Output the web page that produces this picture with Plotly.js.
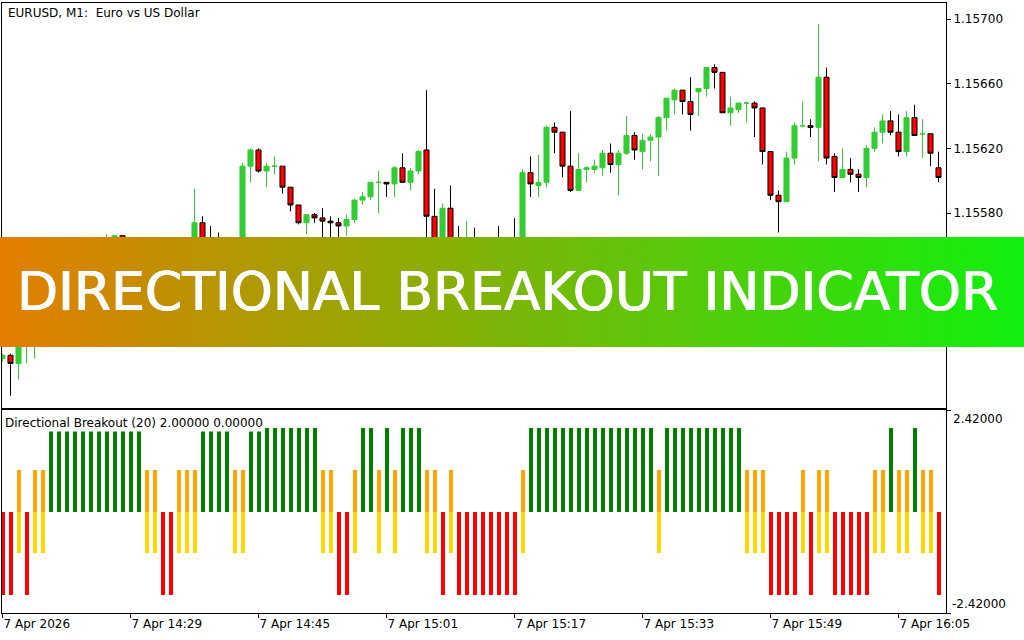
<!DOCTYPE html>
<html><head><meta charset="utf-8">
<script src="https://cdn.plot.ly/plotly-3.0.1.min.js"></script>
<style>html,body{margin:0;padding:0;background:#fff;}#chart{width:1024px;height:640px;}</style>
</head><body><div id="chart"></div>
<script>
// ---- data (EURUSD M1, 7 Apr 2026, from 14:13) ----
const startMinute = 14 * 60 + 13;
const open = [1.15490,1.15492,1.15487,1.15502,1.15510,1.15518,1.15514,1.15528,1.15532,1.15538,
1.15534,1.15543,1.15547,1.15545,1.15558,1.15566,1.15555,1.15558,1.15552,1.15547,
1.15541,1.15535,1.15539,1.15547,1.15555,1.15574,1.15560,1.15552,1.15548,1.15552,
1.15556,1.15609,1.15619,1.15606,1.15609,1.15609,1.15596,1.15585,1.15574,1.15579,
1.15577,1.15575,1.15574,1.15572,1.15576,1.15588,1.15590,1.15599,1.15599,1.15598,
1.15608,1.15599,1.15606,1.15619,1.15578,1.15555,1.15583,1.15548,1.15540,1.15546,
1.15538,1.15532,1.15528,1.15525,1.15522,1.15518,1.15605,1.15597,1.15599,1.15633,
1.15630,1.15609,1.15594,1.15607,1.15607,1.15608,1.15617,1.15610,1.15617,1.15628,
1.15618,1.15625,1.15627,1.15639,1.15650,1.15656,1.15649,1.15655,1.15657,1.15670,
1.15667,1.15642,1.15644,1.15648,1.15648,1.15645,1.15618,1.15591,1.15587,1.15614,
1.15634,1.15634,1.15633,1.15664,1.15615,1.15602,1.15607,1.15604,1.15602,1.15620,
1.15630,1.15637,1.15630,1.15618,1.15639,1.15629,1.15629,1.15608];
const high = [1.15493,1.15493,1.15505,1.15515,1.15522,1.15525,1.15530,1.15535,1.15540,1.15542,
1.15545,1.15550,1.15553,1.15567,1.15566,1.15566,1.15562,1.15563,1.15558,1.15553,
1.15546,1.15542,1.15550,1.15558,1.15595,1.15578,1.15572,1.15568,1.15558,1.15560,
1.15611,1.15620,1.15620,1.15611,1.15615,1.15609,1.15596,1.15585,1.15579,1.15580,
1.15583,1.15578,1.15577,1.15579,1.15589,1.15593,1.15599,1.15606,1.15599,1.15609,
1.15617,1.15608,1.15619,1.15656,1.15595,1.15586,1.15597,1.15572,1.15575,1.15571,
1.15550,1.15540,1.15572,1.15535,1.15577,1.15607,1.15615,1.15616,1.15634,1.15636,
1.15630,1.15643,1.15617,1.15609,1.15613,1.15619,1.15623,1.15619,1.15640,1.15630,
1.15629,1.15629,1.15640,1.15651,1.15657,1.15656,1.15664,1.15657,1.15670,1.15672,
1.15667,1.15652,1.15648,1.15649,1.15649,1.15645,1.15618,1.15594,1.15618,1.15636,
1.15649,1.15638,1.15697,1.15670,1.15617,1.15620,1.15614,1.15607,1.15622,1.15633,
1.15641,1.15643,1.15641,1.15643,1.15647,1.15638,1.15629,1.15618];
const low = [1.15488,1.15467,1.15477,1.15487,1.15490,1.15510,1.15512,1.15522,1.15527,1.15530,
1.15532,1.15538,1.15540,1.15543,1.15552,1.15550,1.15548,1.15550,1.15544,1.15538,
1.15530,1.15528,1.15535,1.15543,1.15552,1.15556,1.15548,1.15542,1.15540,1.15545,
1.15553,1.15599,1.15605,1.15596,1.15604,1.15592,1.15581,1.15573,1.15567,1.15574,
1.15560,1.15562,1.15558,1.15566,1.15574,1.15585,1.15588,1.15580,1.15590,1.15590,
1.15599,1.15594,1.15604,1.15560,1.15550,1.15550,1.15542,1.15535,1.15535,1.15532,
1.15526,1.15522,1.15518,1.15516,1.15512,1.15515,1.15590,1.15590,1.15596,1.15617,
1.15602,1.15593,1.15594,1.15599,1.15605,1.15603,1.15605,1.15591,1.15616,1.15613,
1.15607,1.15612,1.15603,1.15631,1.15641,1.15641,1.15631,1.15640,1.15652,1.15657,
1.15642,1.15634,1.15642,1.15636,1.15627,1.15610,1.15588,1.15568,1.15587,1.15610,
1.15633,1.15627,1.15612,1.15610,1.15593,1.15602,1.15599,1.15593,1.15596,1.15618,
1.15623,1.15628,1.15615,1.15615,1.15628,1.15614,1.15609,1.15599];
const close = [1.15492,1.15487,1.15502,1.15510,1.15518,1.15514,1.15528,1.15532,1.15538,1.15534,
1.15543,1.15547,1.15545,1.15558,1.15566,1.15555,1.15558,1.15552,1.15547,1.15541,
1.15535,1.15539,1.15547,1.15555,1.15574,1.15560,1.15552,1.15548,1.15552,1.15556,
1.15609,1.15619,1.15606,1.15609,1.15609,1.15596,1.15585,1.15574,1.15579,1.15577,
1.15575,1.15574,1.15572,1.15576,1.15588,1.15590,1.15599,1.15599,1.15598,1.15608,
1.15599,1.15606,1.15618,1.15578,1.15555,1.15583,1.15548,1.15540,1.15546,1.15538,
1.15532,1.15528,1.15525,1.15522,1.15518,1.15605,1.15598,1.15599,1.15633,1.15630,
1.15609,1.15594,1.15607,1.15608,1.15609,1.15617,1.15610,1.15617,1.15628,1.15619,
1.15625,1.15627,1.15639,1.15651,1.15656,1.15649,1.15641,1.15657,1.15670,1.15667,
1.15642,1.15645,1.15648,1.15648,1.15645,1.15618,1.15591,1.15587,1.15614,1.15634,
1.15634,1.15633,1.15664,1.15614,1.15602,1.15607,1.15604,1.15602,1.15620,1.15630,
1.15637,1.15630,1.15618,1.15639,1.15628,1.15629,1.15617,1.15602];
// Directional Breakout state per bar: G = bullish breakout, R = bearish breakout, N = neutral
const dbState = ['R','R','N','R','N','N','G','G','G','G','G','G','G','G','G','G','G','G',
'N','N','R','R','N','N','N','G','G','G','G','N','N','G','G','G','G','G','G','G','G','G',
'N','N','R','R','N','G','G','N','G','N','G','G','G','N','N','R','N',
'R','R','R','R','R','R','R','R','N',
'G','G','G','G','G','G','G','G','G','G','G','G','G','G','G','G','N',
'G','G','G','G','G','G','G','G','G','G','N','N','N','R','R','R','R','N','R','N','N',
'R','R','R','R','R','N','N','G','N','N','G','N','N','R'];
const stateLevel = {G: 2, R: -2, Nup: 1, Ndn: -1};
const tickTimes = ['14:13','14:29','14:45','15:01','15:17','15:33','15:49','16:05'];
const tickText = ['7 Apr 2026','7 Apr 14:29','7 Apr 14:45','7 Apr 15:01','7 Apr 15:17','7 Apr 15:33','7 Apr 15:49','7 Apr 16:05'];
// 1.15540 lies under the banner in the reference, so only visible levels are labelled
const priceTicks = [1.15500,1.15580,1.15620,1.15660,1.15700];
const priceTickText = ['1.15500','1.15580','1.15620','1.15660','1.15700'];

// ---- categories (one per minute bar) ----
const times = open.map((_, i) => {
  const m = startMinute + i;
  return String(Math.floor(m / 60)).padStart(2, '0') + ':' + String(m % 60).padStart(2, '0');
});

const pick = (code, level) => dbState.map(s => s === code ? level : null);

const candle = {
  type: 'candlestick', x: times, open: open, high: high, low: low, close: close,
  xaxis: 'x', yaxis: 'y', whiskerwidth: 0, hoverinfo: 'skip',
  increasing: {line: {color: '#32CD32', width: 1}, fillcolor: '#32CD32'},
  decreasing: {line: {color: '#000000', width: 1}, fillcolor: '#FF0000'}
};
const mkBar = (y, color) => ({
  type: 'bar', x: times, y: y, xaxis: 'x2', yaxis: 'y2', width: 0.5,
  marker: {color: color, line: {width: 0}}, hoverinfo: 'skip'
});
const traces = [
  candle,
  mkBar(pick('G', stateLevel.G), '#008000'),
  mkBar(pick('R', stateLevel.R), '#FF0000'),
  mkBar(pick('N', stateLevel.Nup), '#FFA500'),
  mkBar(pick('N', stateLevel.Ndn), '#FFD700')
];

// ---- geometry ----
const W = 1024, H = 640, L = 2, R = 78, T = 3, B = 27;
const pw = W - L - R, ph = H - T - B;
const px2x = p => (p - L) / pw;
const px2y = p => (H - B - p) / ph;
const xRange = [-0.0625, 117.9375];

const bannerSvg = "<svg xmlns='http://www.w3.org/2000/svg' width='1024' height='110' viewBox='0 0 1024 110' preserveAspectRatio='none'>" +
  "<defs><linearGradient id='g' x1='0' y1='0' x2='1' y2='0'>" +
  "<stop offset='0' stop-color='#E47D00'/><stop offset='1' stop-color='#10F00E'/></linearGradient></defs>" +
  "<rect x='0' y='0' width='1024' height='110' fill='url(#g)'/></svg>";
const bannerSrc = 'data:image/svg+xml;charset=utf-8,' + encodeURIComponent(bannerSvg);

const axisFont = {family: 'DejaVu Sans', size: 12, color: '#000'};
const layout = {
  width: W, height: H,
  margin: {l: L, r: R, t: T, b: B, pad: 0},
  paper_bgcolor: '#ffffff', plot_bgcolor: '#ffffff',
  showlegend: false, barmode: 'overlay', bargap: 0,
  boxgap: 0.3, boxgroupgap: 0.1,
  font: axisFont,
  xaxis: {anchor: 'y', type: 'category', range: xRange, showticklabels: false, ticks: '',
    showgrid: false, zeroline: false, showline: true, mirror: true, linecolor: '#000', linewidth: 1,
    rangeslider: {visible: false}, fixedrange: true},
  yaxis: {domain: [px2y(408), 1], anchor: 'x', side: 'right', range: [1.1545943, 1.1570990],
    tickvals: priceTicks, ticktext: priceTickText, ticks: 'outside', ticklen: 4, tickcolor: '#000',
    tickfont: axisFont, showgrid: false, zeroline: false, showline: true, mirror: true, linecolor: '#000', linewidth: 1},
  xaxis2: {anchor: 'y2', type: 'category', range: xRange, tickvals: tickTimes, ticktext: tickText,
    ticks: 'outside', ticklen: 4, tickcolor: '#000', ticklabelposition: 'outside right', tickfont: axisFont,
    showgrid: false, zeroline: false, showline: true, mirror: true, linecolor: '#000', linewidth: 1},
  yaxis2: {domain: [0, px2y(410)], anchor: 'x2', side: 'right', range: [-2.42, 2.42],
    tickvals: [2.42, -2.42], ticktext: ['', ''], ticks: 'outside', ticklen: 4, tickcolor: '#000',
    showgrid: false, zeroline: false, showline: true, mirror: true, linecolor: '#000', linewidth: 1},
  images: [{source: bannerSrc, xref: 'paper', yref: 'paper', x: px2x(0), y: px2y(237),
    sizex: W / pw, sizey: 110 / ph, xanchor: 'left', yanchor: 'top', sizing: 'stretch', layer: 'above'}],
  annotations: [
    {text: 'EURUSD, M1:\u00a0 Euro vs US Dollar', xref: 'paper', yref: 'paper', x: px2x(6), y: px2y(13),
      xanchor: 'left', yanchor: 'middle', showarrow: false, font: axisFont},
    {text: 'Directional Breakout (20) 2.00000 0.00000', xref: 'paper', yref: 'paper', x: px2x(3), y: px2y(422.5),
      xanchor: 'left', yanchor: 'middle', showarrow: false, font: axisFont, bgcolor: '#ffffff', borderpad: 1},
    {text: '2.42000', xref: 'paper', yref: 'y2', x: px2x(951), y: 2.42, xanchor: 'left', yanchor: 'top',
      showarrow: false, font: axisFont},
    {text: '-2.42000', xref: 'paper', yref: 'y2', x: px2x(950), y: -2.42, xanchor: 'left', yanchor: 'bottom',
      showarrow: false, font: axisFont},
    {text: 'DIRECTIONAL BREAKOUT INDICATOR', xref: 'paper', yref: 'paper', x: px2x(507.5), y: px2y(291),
      xanchor: 'center', yanchor: 'middle', showarrow: false,
      font: {family: 'DejaVu Sans', size: 53.5, color: '#ffffff',
        shadow: '0.6px 0 0 #ffffff, -0.6px 0 0 #ffffff'}}
  ]
};

Plotly.newPlot('chart', traces, layout, {staticPlot: true, displayModeBar: false});
</script>
</body></html>
